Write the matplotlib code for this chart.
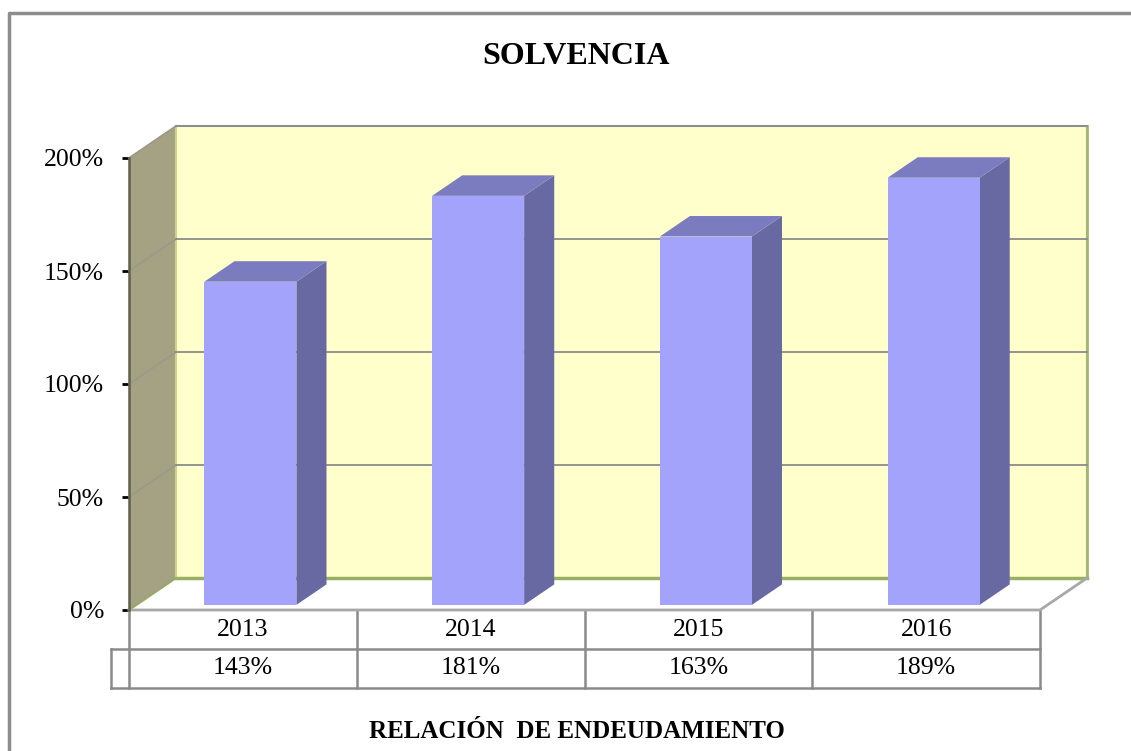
import matplotlib
matplotlib.use("Agg")
import matplotlib.pyplot as plt
from matplotlib.patches import Polygon, Rectangle
from matplotlib.lines import Line2D

# data
years = ["2013", "2014", "2015", "2016"]
ratios = [1.43, 1.81, 1.63, 1.89]
ratio_labels = ["143%", "181%", "163%", "189%"]
yticks = [0.0, 0.5, 1.0, 1.5, 2.0]
ytick_labels = ["0%", "50%", "100%", "150%", "200%"]

plt.rcParams["font.family"] = ["Liberation Serif", "DejaVu Serif"]

W, H = 1131, 751
fig = plt.figure(figsize=(W / 100, H / 100), dpi=100)

# axes = front plane of the 3D box
ax = fig.add_axes([129 / W, (H - 610) / H, 911 / W, 452 / H])
ax.set_xlim(0, 4)
ax.set_ylim(0, 2)
ax.patch.set_alpha(0)

# depth offset of the box (in data units)
DX = 47 / (911 / 4)
DY = 32 / (452 / 2)

wall_col = "#FFFFCC"
side_wall_col = "#A4A283"
grid_col = "#8C8C8C"

# back wall
ax.add_patch(Rectangle((DX, DY), 4, 2, facecolor=wall_col,
                       edgecolor="none", zorder=1, clip_on=False))
ax.plot([DX, 4 + DX, 4 + DX], [2 + DY, 2 + DY, DY], color="#A0A0A0",
        lw=1.5, zorder=1.5, clip_on=False)
ax.plot([4 + DX, 4 + DX], [DY, 2 + DY], color="#A3B86C", lw=2,
        zorder=1.6, clip_on=False)
ax.plot([DX, 4 + DX], [DY, DY], color="#9BAF62", lw=2.5, zorder=1.6,
        clip_on=False)

# left wall
ax.add_patch(Polygon([(0, 0), (DX, DY), (DX, 2 + DY), (0, 2)],
                     closed=True, facecolor=side_wall_col, edgecolor="none",
                     zorder=1, clip_on=False))
ax.plot([DX, DX], [DY, 2 + DY], color="#C8D48A", lw=1.5, zorder=1.6,
        clip_on=False)
ax.plot([0, DX], [0, DY], color="#98A868", lw=1.5, zorder=1.6, clip_on=False)

# gridlines on back and side walls
for v in yticks[1:]:
    ax.plot([0, DX], [v, v + DY], color="#9A9A8A", lw=1.3, zorder=2,
            clip_on=False)
    ax.plot([DX, 4 + DX], [v + DY, v + DY], color=grid_col, lw=1.3,
            zorder=2, clip_on=False)

# floor
ax.add_patch(Polygon([(0, 0), (4, 0), (4 + DX, DY), (DX, DY)], closed=True,
                     facecolor="white", edgecolor="none", zorder=1.2,
                     clip_on=False))
ax.plot([0, 4, 4 + DX], [0, 0, DY], color="#A8A8A8", lw=2, zorder=2.2,
        clip_on=False)

# bars
bar_w = 0.404
d0, d1 = 0.16, 0.80
front_col = "#A3A3FC"
side_col = "#6868A2"
top_col = "#7B7BC0"
for i, v in enumerate(ratios):
    x0 = i + 0.5 - bar_w / 2 + d0 * DX
    y0 = d0 * DY
    ddx = (d1 - d0) * DX
    ddy = (d1 - d0) * DY
    ax.add_patch(Polygon([(x0 + bar_w, y0), (x0 + bar_w + ddx, y0 + ddy),
                          (x0 + bar_w + ddx, y0 + v + ddy),
                          (x0 + bar_w, y0 + v)], closed=True,
                         facecolor=side_col, edgecolor="none", zorder=3,
                         clip_on=False))
    ax.add_patch(Polygon([(x0, y0 + v), (x0 + bar_w, y0 + v),
                          (x0 + bar_w + ddx, y0 + v + ddy),
                          (x0 + ddx, y0 + v + ddy)], closed=True,
                         facecolor=top_col, edgecolor="none", zorder=3,
                         clip_on=False))
    ax.add_patch(Rectangle((x0, y0), bar_w, v, facecolor=front_col,
                           edgecolor="none", zorder=3.1, clip_on=False))

# axis
for s in ["top", "right", "bottom"]:
    ax.spines[s].set_visible(False)
ax.spines["left"].set_color("#5F6048")
ax.spines["left"].set_linewidth(1.8)
ax.spines["left"].set_zorder(2.5)
ax.set_xticks([])
ax.set_yticks(yticks)
ax.set_yticklabels(ytick_labels)
ax.tick_params(axis="y", length=5, width=2, color="black", pad=13,
               labelsize=18.5)

# data table below the floor
row_h = 39 / (452 / 2)
key_w = 18 / (911 / 4)
tcol = "#8A8A8A"
for k in range(5):
    ax.plot([k, k], [0, -2 * row_h], color=tcol, lw=1.8, clip_on=False)
ax.plot([-key_w, 4], [-row_h, -row_h], color=tcol, lw=1.8, clip_on=False)
ax.plot([-key_w, 4], [-2 * row_h, -2 * row_h], color=tcol, lw=1.8,
        clip_on=False)
ax.plot([-key_w, -key_w], [-row_h, -2 * row_h], color=tcol, lw=1.8,
        clip_on=False)
for i in range(len(years)):
    ax.text(i + 0.5, -0.5 * row_h, years[i], ha="center", va="center",
            fontsize=18.5, clip_on=False)
    ax.text(i + 0.5, -1.5 * row_h, ratio_labels[i], ha="center", va="center",
            fontsize=18.5, clip_on=False)

# titles
fig.text(576 / W, 1 - 57 / H, "SOLVENCIA", ha="center", va="center",
         fontsize=23, fontweight="bold")
fig.text(577 / W, 1 - 732 / H, "RELACIÓN  DE ENDEUDAMIENTO", ha="center",
         va="center", fontsize=18, fontweight="bold")

# outer chart frame
fig.add_artist(Line2D([9 / W, 9 / W, 1.0], [0, 1 - 13 / H, 1 - 13 / H],
                      transform=fig.transFigure, color="#8C8C8C", lw=2.5))

fig.savefig("out.png", dpi=100)
